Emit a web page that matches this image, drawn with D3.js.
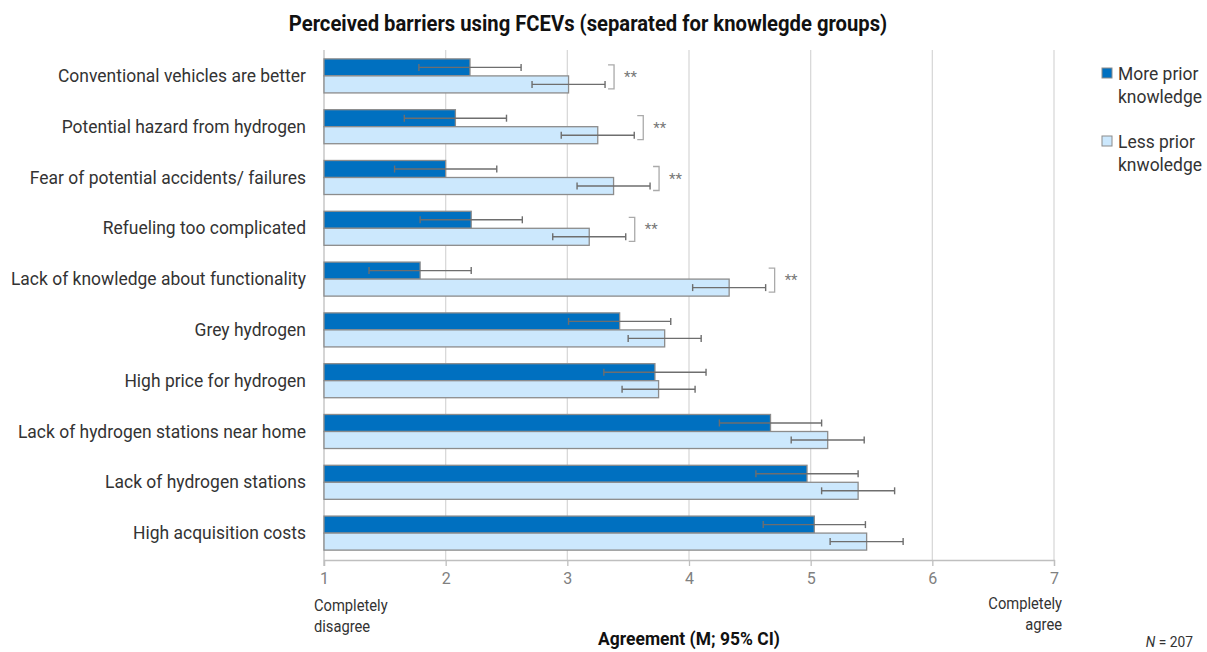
<!DOCTYPE html>
<html>
<head>
<meta charset="utf-8">
<script src="https://cdn.jsdelivr.net/npm/d3@7"></script>
<style>
  body { margin: 0; background: #fff; }
  text { font-family: Roboto, "Noto Sans", sans-serif; }
</style>
</head>
<body>
<script>
// data
var categories = [
  "Conventional vehicles are better",
  "Potential hazard from hydrogen",
  "Fear of potential accidents/ failures",
  "Refueling too complicated",
  "Lack of knowledge about functionality",
  "Grey hydrogen",
  "High price for hydrogen",
  "Lack of hydrogen stations near home",
  "Lack of hydrogen stations",
  "High acquisition costs"
];
var moreMean = [2.20, 2.08, 2.00, 2.21, 1.79, 3.43, 3.72, 4.67, 4.97, 5.03];
var moreCI = [0.42, 0.42, 0.42, 0.42, 0.42, 0.42, 0.42, 0.42, 0.42, 0.42];
var lessMean = [3.01, 3.25, 3.38, 3.18, 4.33, 3.80, 3.75, 5.14, 5.39, 5.46];
var lessCI = [0.30, 0.30, 0.30, 0.30, 0.30, 0.30, 0.30, 0.30, 0.30, 0.30];
var significance = ["**", "**", "**", "**", "**", "", "", "", "", ""];
var xTicks = [1, 2, 3, 4, 5, 6, 7];
var seriesNames = [["More prior", "knowledge"], ["Less prior", "knwoledge"]];

var darkBlue = "#0070c0";
var lightBlue = "#cce8fd";
var squeeze = 0.92; // fake a condensed font

var svg = d3
  .select("body")
  .append("svg")
  .attr("width", 1207)
  .attr("height", 652);

var x = d3.scaleLinear().domain([1, 7]).range([324, 1054]);
var y = d3
  .scaleBand()
  .domain(categories)
  .range([50.5, 558.5])
  .paddingInner(0.33)
  .paddingOuter(0.165);
var half = y.bandwidth() / 2;

function condensed(sel, px, py) {
  return sel.attr("transform", "translate(" + px + "," + py + ") scale(" + squeeze + ",1)");
}

// title
condensed(svg.append("text"), 588, 31)
  .attr("text-anchor", "middle")
  .style("font-size", "22px")
  .style("font-weight", "bold")
  .attr("fill", "#111")
  .text("Perceived barriers using FCEVs (separated for knowlegde groups)");

// gridlines
svg
  .selectAll("grid")
  .data(xTicks.slice(1))
  .enter()
  .append("line")
  .attr("x1", function (d) { return x(d); })
  .attr("x2", function (d) { return x(d); })
  .attr("y1", 50)
  .attr("y2", 560)
  .attr("stroke", "#d9d9d9")
  .attr("stroke-width", 1.3);

// x axis
var xAxis = svg
  .append("g")
  .attr("transform", "translate(0,560)")
  .call(
    d3.axisBottom(x)
      .tickValues(xTicks)
      .tickFormat(d3.format("d"))
      .tickSize(6)
      .tickPadding(7)
  );
xAxis.select(".domain").attr("stroke", "#bfbfbf").attr("stroke-width", 1.3);
xAxis.selectAll(".tick line").attr("stroke", "#bfbfbf").attr("stroke-width", 1.3);
xAxis
  .selectAll(".tick text")
  .attr("fill", "#808080")
  .style("font-size", "16px")
  .style("font-family", "Roboto, sans-serif");

// left axis line
svg
  .append("line")
  .attr("x1", x(1))
  .attr("x2", x(1))
  .attr("y1", 50)
  .attr("y2", 566)
  .attr("stroke", "#bfbfbf")
  .attr("stroke-width", 1.3);

// category labels
categories.forEach(function (c) {
  condensed(svg.append("text"), 306, y(c) + half + 6)
    .attr("text-anchor", "end")
    .style("font-size", "19px")
    .attr("fill", "#333")
    .text(c);
});

// bars
var groups = svg
  .selectAll("cat")
  .data(categories)
  .enter()
  .append("g");

groups
  .append("rect")
  .attr("x", x(1))
  .attr("y", function (d) { return y(d); })
  .attr("width", function (d, i) { return x(moreMean[i]) - x(1); })
  .attr("height", half)
  .attr("fill", darkBlue)
  .attr("stroke", "#8c8c8c")
  .attr("stroke-width", 1.3);

groups
  .append("rect")
  .attr("x", x(1))
  .attr("y", function (d) { return y(d) + half; })
  .attr("width", function (d, i) { return x(lessMean[i]) - x(1); })
  .attr("height", half)
  .attr("fill", lightBlue)
  .attr("stroke", "#8c8c8c")
  .attr("stroke-width", 1.3);

// error bars
function errorBar(g, mean, ci, cy) {
  var x0 = x(mean - ci);
  var x1 = x(mean + ci);
  g.append("line")
    .attr("x1", x0).attr("x2", x1)
    .attr("y1", cy).attr("y2", cy)
    .attr("stroke", "#6e6e6e").attr("stroke-width", 1.4);
  [x0, x1].forEach(function (xx) {
    g.append("line")
      .attr("x1", xx).attr("x2", xx)
      .attr("y1", cy - 3.5).attr("y2", cy + 3.5)
      .attr("stroke", "#6e6e6e").attr("stroke-width", 1.4);
  });
}

groups.each(function (d, i) {
  var g = d3.select(this);
  errorBar(g, moreMean[i], moreCI[i], y(d) + half / 2);
  errorBar(g, lessMean[i], lessCI[i], y(d) + half * 1.5);

  if (significance[i]) {
    var bx = x(Math.max(moreMean[i] + moreCI[i], lessMean[i] + lessCI[i])) + 3;
    var top = y(d) + 6;
    var bot = y(d) + 30;
    g.append("path")
      .attr("d", "M" + bx + "," + top + "H" + (bx + 6) + "V" + bot + "H" + bx)
      .attr("fill", "none")
      .attr("stroke", "#aaaaaa")
      .attr("stroke-width", 1.3);
    g.append("text")
      .attr("x", bx + 16)
      .attr("y", y(d) + half + 6)
      .style("font-size", "15px")
      .attr("fill", "#777")
      .text(significance[i]);
  }
});

// end labels
["Completely", "disagree"].forEach(function (t, k) {
  condensed(svg.append("text"), 314, 611 + k * 21)
    .style("font-size", "16px")
    .attr("fill", "#333")
    .text(t);
});
["Completely", "agree"].forEach(function (t, k) {
  condensed(svg.append("text"), 1062, 609 + k * 21)
    .attr("text-anchor", "end")
    .style("font-size", "16px")
    .attr("fill", "#333")
    .text(t);
});

// axis title
condensed(svg.append("text"), 689, 645)
  .attr("text-anchor", "middle")
  .style("font-size", "19px")
  .style("font-weight", "bold")
  .attr("fill", "#111")
  .text("Agreement (M; 95% CI)");

// N note
var note = condensed(svg.append("text"), 1193, 647)
  .attr("text-anchor", "end")
  .style("font-size", "15px")
  .attr("fill", "#333");
note.append("tspan").style("font-style", "italic").text("N");
note.append("tspan").text(" = 207");

// legend
var legendColors = [darkBlue, lightBlue];
seriesNames.forEach(function (lines, i) {
  var ly = 68 + i * 68;
  svg
    .append("rect")
    .attr("x", 1102)
    .attr("y", ly)
    .attr("width", 10)
    .attr("height", 10)
    .attr("fill", legendColors[i])
    .attr("stroke", "#8c8c8c")
    .attr("stroke-width", 1);
  lines.forEach(function (t, k) {
    condensed(svg.append("text"), 1118, ly + 12 + k * 23)
      .style("font-size", "19px")
      .attr("fill", "#333")
      .text(t);
  });
});
</script>
</body>
</html>
